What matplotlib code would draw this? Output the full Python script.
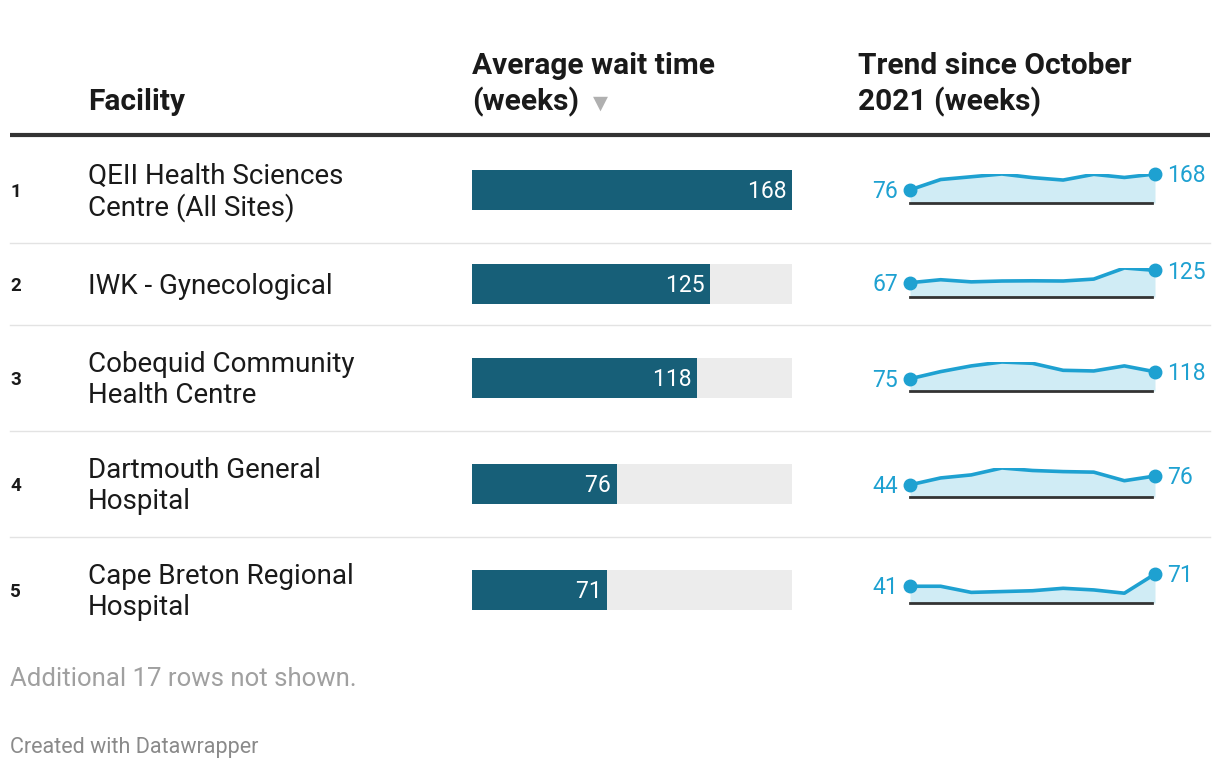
import numpy as np
import matplotlib.pyplot as plt

plt.rcParams['font.family'] = ['Roboto', 'DejaVu Sans']

facilities = ["QEII Health Sciences\nCentre (All Sites)", "IWK - Gynecological",
              "Cobequid Community\nHealth Centre", "Dartmouth General\nHospital",
              "Cape Breton Regional\nHospital"]
wait_weeks = [168, 125, 118, 76, 71]
trends = [
    [76, 136, 152, 168, 147, 133, 166, 148, 168],
    [67, 81, 71, 75, 76, 75, 84, 136, 125],
    [75, 119, 154, 178, 170, 127, 123, 154, 118],
    [44, 69, 80, 105, 96, 92, 90, 59, 76],
    [41, 41, 26, 28, 30, 36, 32, 24, 71],
]

W, H = 1220, 768
BAR_DARK = '#175f78'
BAR_BG = '#ececec'
LINE = '#1ea1d1'
FILL = '#d0ecf5'
row_y = [190, 284, 378, 484, 590]
seps = [243, 325, 431, 537]

fig = plt.figure(figsize=(W / 100, H / 100), dpi=100)
ax = fig.add_axes([0, 0, 1, 1])
ax.set_xlim(0, W)
ax.set_ylim(H, 0)
ax.axis('off')


def px_axes(x0, y0, x1, y1):
    return fig.add_axes([x0 / W, 1 - y1 / H, (x1 - x0) / W, (y1 - y0) / H])


# headers
hdr = dict(fontsize=21.5, fontweight='bold', va='center', color='#1a1a1a')
ax.text(88, 102, "Facility", **hdr)
ax.text(472, 66, "Average wait time", **hdr)
ax.text(472, 102, "(weeks)", **hdr)
ax.text(593, 103, "▼", fontsize=14, va='center', color='#b0b0b0', family=['DejaVu Sans'])
ax.text(858, 66, "Trend since October", **hdr)
ax.text(858, 102, "2021 (weeks)", **hdr)
ax.plot([10, 1210], [135, 135], color='#333333', lw=3, solid_capstyle='butt')
for s in seps:
    ax.plot([10, 1210], [s, s], color='#e3e3e3', lw=1)

vmax = max(wait_weeks)
for i, (name, val, tr) in enumerate(zip(facilities, wait_weeks, trends)):
    y = row_y[i]
    ax.text(10, y + 2, str(i + 1), fontsize=13.5, fontweight='bold', va='center', color='#1a1a1a')
    ax.text(88, y + 2, name, fontsize=20, va='center', color='#1a1a1a', linespacing=1.15)

    bax = px_axes(472, y - 20, 792, y + 20)
    bax.barh([0], [vmax], height=1, color=BAR_BG)
    bax.barh([0], [val], height=1, color=BAR_DARK)
    bax.text(val, -0.05, str(val) + ' ', ha='right', va='center', color='white', fontsize=16.5)
    bax.set_xlim(0, vmax)
    bax.set_ylim(-0.5, 0.5)
    bax.axis('off')

    base = y + 13
    sax = px_axes(910, base - 29, 1155, base)
    xs = np.arange(len(tr))
    sax.fill_between(xs, 0, tr, color=FILL, lw=0)
    sax.plot(xs, tr, color=LINE, lw=2.6, solid_joinstyle='round')
    sax.plot([xs[0], xs[-1]], [tr[0], tr[-1]], 'o', color=LINE, ms=9, clip_on=False)
    sax.plot([0, xs[-1] - 0.1], [0, 0], color='#333333', lw=2, clip_on=False)
    sax.set_xlim(0, xs[-1])
    sax.set_ylim(0, max(tr))
    sax.axis('off')
    off = 0.06 * max(tr)
    sax.text(-0.4, tr[0] - off, str(tr[0]), ha='right', va='center', color=LINE, fontsize=16.5, clip_on=False)
    sax.text(xs[-1] + 0.38, tr[-1] - off, str(tr[-1]), ha='left', va='center', color=LINE, fontsize=16.5, clip_on=False)

ax.text(10, 679, "Additional 17 rows not shown.", fontsize=18.5, va='center', color='#a0a0a0')
ax.text(10, 747, "Created with Datawrapper", fontsize=15.5, va='center', color='#8a8a8a')

fig.savefig('out.png', dpi=100, facecolor='white')
